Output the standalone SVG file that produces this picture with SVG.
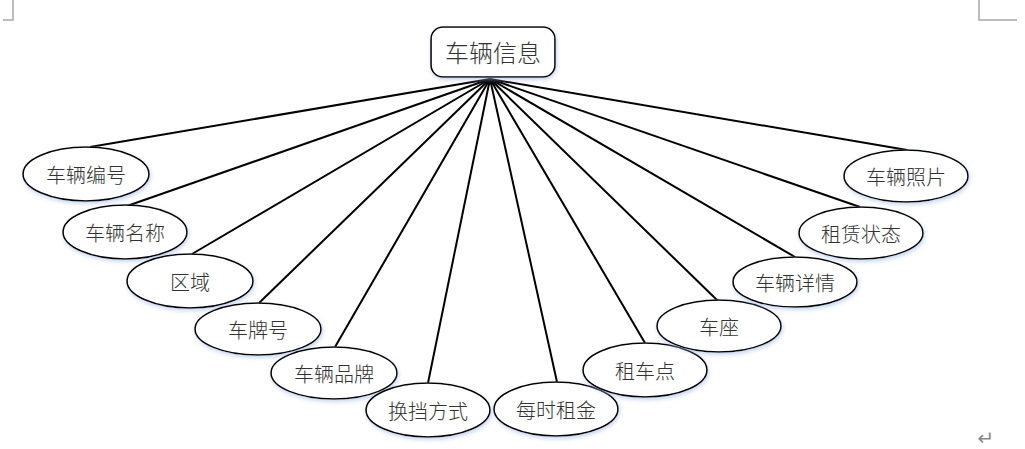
<svg xmlns="http://www.w3.org/2000/svg" width="1025" height="449" viewBox="0 0 1025 449">
<defs>
<filter id="glow" x="-20%" y="-30%" width="140%" height="160%">
<feDropShadow dx="1" dy="2" stdDeviation="2" flood-color="#9fb8e0" flood-opacity="0.6"/>
</filter>
<style>
.node ellipse{fill:#fff;stroke:#000;stroke-width:1.6;filter:url(#glow)}
.node text{font-family:"Noto Sans CJK SC","Liberation Sans",sans-serif;font-size:20px;font-weight:300;fill:#333;text-anchor:middle;dominant-baseline:central}
.root rect{fill:#fff;stroke:#000;stroke-width:1.6;filter:url(#glow)}
.root text{font-family:"Noto Sans CJK SC","Liberation Sans",sans-serif;font-size:24px;font-weight:300;fill:#333;text-anchor:middle;dominant-baseline:central}
.edges line{stroke:#000;stroke-width:2}
.mark{stroke:#a6a6a6;stroke-width:1.5;fill:none}
</style>
</defs>
<rect width="1025" height="449" fill="#fff"/>
<path class="mark" d="M13,0 V20 H3"/>
<path class="mark" d="M979,0 V20 H1017"/>
<text x="986" y="445" font-family="DejaVu Sans,sans-serif" font-size="20" fill="#888" text-anchor="middle">↵</text>
<g class="edges">
<line x1="490" y1="79" x2="90" y2="147"/>
<line x1="490" y1="79" x2="127" y2="206"/>
<line x1="490" y1="79" x2="192" y2="254"/>
<line x1="490" y1="79" x2="259" y2="303"/>
<line x1="490" y1="79" x2="335" y2="347"/>
<line x1="490" y1="79" x2="428" y2="383"/>
<line x1="490" y1="79" x2="557" y2="382"/>
<line x1="490" y1="79" x2="645" y2="343"/>
<line x1="490" y1="79" x2="718" y2="301"/>
<line x1="490" y1="79" x2="795" y2="257"/>
<line x1="490" y1="79" x2="860" y2="207"/>
<line x1="490" y1="79" x2="907" y2="150"/>
</g>
<g id="root" class="root"><rect x="431" y="27" width="124" height="50" rx="12"/><text x="493" y="51">车辆信息</text></g>
<g id="n1" class="node"><ellipse cx="86" cy="174" rx="63" ry="27"/><text x="86" y="174">车辆编号</text></g>
<g id="n2" class="node"><ellipse cx="125" cy="232" rx="62" ry="27"/><text x="125" y="232">车辆名称</text></g>
<g id="n3" class="node"><ellipse cx="190" cy="281" rx="63" ry="27"/><text x="190" y="281">区域</text></g>
<g id="n4" class="node"><ellipse cx="258" cy="329" rx="63" ry="26"/><text x="258" y="329">车牌号</text></g>
<g id="n5" class="node"><ellipse cx="334" cy="373" rx="63" ry="26"/><text x="334" y="373">车辆品牌</text></g>
<g id="n6" class="node"><ellipse cx="428" cy="410" rx="62" ry="27"/><text x="428" y="410">换挡方式</text></g>
<g id="n7" class="node"><ellipse cx="556" cy="409" rx="62" ry="27"/><text x="556" y="409">每时租金</text></g>
<g id="n8" class="node"><ellipse cx="645" cy="370" rx="62" ry="27"/><text x="645" y="370">租车点</text></g>
<g id="n9" class="node"><ellipse cx="719" cy="326" rx="62" ry="26"/><text x="719" y="326">车座</text></g>
<g id="n10" class="node"><ellipse cx="795" cy="282" rx="62" ry="25"/><text x="795" y="282">车辆详情</text></g>
<g id="n11" class="node"><ellipse cx="861" cy="233" rx="62" ry="26"/><text x="861" y="233">租赁状态</text></g>
<g id="n12" class="node"><ellipse cx="906" cy="176" rx="62" ry="26"/><text x="906" y="176">车辆照片</text></g>
</svg>
